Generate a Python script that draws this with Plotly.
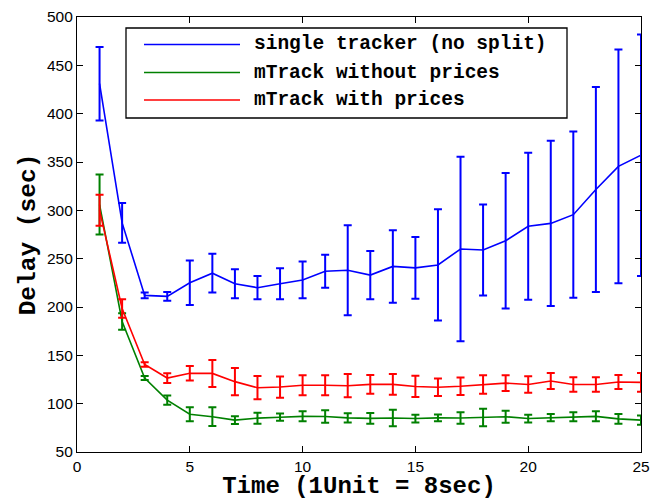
import plotly.graph_objects as go

# Time steps (1 unit = 8 sec)
time_units = list(range(1, 26))

# Mean delay (sec) and half-width of error bars for each configuration
single_tracker = [431, 287, 212, 211, 225, 235, 224, 220, 224, 228, 237, 238, 233,
                  242, 240.5, 243.5, 260, 259, 268.5, 283.5, 286.5, 295.5, 321.5, 345.5, 357]
single_tracker_err = [38, 20.5, 3, 4.5, 23, 20, 15, 12, 16, 19, 17, 46.5, 25,
                      37.5, 32, 57.5, 95.5, 47, 70, 76, 85.5, 86, 106, 121, 125]

mtrack_no_prices = [306, 185, 126.6, 103.7, 89, 86.5, 83, 85, 86, 86.9, 86.7, 85.3, 84.8,
                    85.2, 84.6, 85.3, 85.1, 85.7, 86.5, 84.6, 85.5, 86.4, 86.9, 84.3, 83]
mtrack_no_prices_err = [31, 8.5, 2, 4.7, 7.3, 9.7, 4.1, 5.7, 3.8, 5.2, 6.4, 4.7, 5.5,
                        8.6, 4, 3.6, 5.9, 9.1, 6.2, 4, 3.8, 4.7, 5.2, 5, 4.7]

mtrack_prices = [300, 198.5, 140.5, 126.5, 131.5, 131.3, 122.8, 116.5, 117.2, 119, 119, 118.6, 120,
                 120, 117.8, 117, 118, 119.8, 121.2, 119.9, 123.5, 119.8, 119.8, 122.4, 122]
mtrack_prices_err = [16, 9.5, 2.3, 5, 7.5, 14, 14, 12, 11, 10.4, 10.4, 12, 9.7,
                     10.7, 11, 9, 9, 9.5, 8.1, 8.5, 8.3, 7.4, 7.4, 7.3, 9.7]

series_names = ["single tracker (no split)", "mTrack without prices", "mTrack with prices"]
series_colors = ["#0000ff", "#008000", "#ff0000"]

x_ticks = [0, 5, 10, 15, 20, 25]
y_ticks = [50, 100, 150, 200, 250, 300, 350, 400, 450, 500]

series = [
    (single_tracker, single_tracker_err),
    (mtrack_no_prices, mtrack_no_prices_err),
    (mtrack_prices, mtrack_prices_err),
]

fig = go.Figure()
for (vals, errs), name, color in zip(series, series_names, series_colors):
    fig.add_trace(go.Scatter(
        x=time_units, y=vals, name=name, mode="lines",
        line=dict(color=color, width=1.6),
        error_y=dict(type="data", array=errs, visible=True,
                     color=color, thickness=2, width=4),
        showlegend=False,
    ))

# Figure geometry (pixels)
W, H = 652, 500
ML, MR, MT, MB = 77, 11, 17, 48
PW, PH = W - ML - MR, H - MT - MB


def px(x):
    return (x - ML) / PW


def py(y):
    return (H - MB - y) / PH


# Boxed legend with long line samples
legend_box = dict(x0=126, x1=567, y0=28, y1=118)
row_y = [44.5, 72.5, 100]
shapes = [dict(type="rect", xref="paper", yref="paper",
               x0=px(legend_box["x0"]), x1=px(legend_box["x1"]),
               y0=py(legend_box["y1"]), y1=py(legend_box["y0"]),
               line=dict(color="black", width=1.3), fillcolor="white", layer="above")]
annotations = []
for name, color, ry in zip(series_names, series_colors, row_y):
    shapes.append(dict(type="line", xref="paper", yref="paper",
                       x0=px(144), x1=px(240), y0=py(ry), y1=py(ry),
                       line=dict(color=color, width=1.6), layer="above"))
    annotations.append(dict(xref="paper", yref="paper", x=px(252), y=py(ry),
                            xanchor="left", yanchor="middle", showarrow=False,
                            text=name,
                            font=dict(family="Liberation Mono", size=19.5,
                                      color="black", weight="bold")))

axis_common = dict(
    showline=True, linecolor="black", linewidth=1.2, mirror="ticks",
    ticks="inside", ticklen=6, tickcolor="black", tickwidth=1,
    showgrid=False, zeroline=False, automargin=False,
    tickfont=dict(family="Liberation Sans", size=15.5, color="black"),
)

fig.update_layout(
    width=W, height=H,
    margin=dict(l=ML, r=MR, t=MT, b=MB, pad=0),
    paper_bgcolor="white", plot_bgcolor="white",
    xaxis=dict(range=[0, 25], tickvals=x_ticks, **axis_common,
               title=dict(text="Time (1Unit = 8sec)", standoff=4,
                          font=dict(family="Liberation Mono", size=24,
                                    color="black", weight="bold"))),
    yaxis=dict(range=[50, 500], tickvals=y_ticks, **axis_common,
               title=dict(text="Delay (sec)", standoff=4,
                          font=dict(family="Liberation Mono", size=24.5,
                                    color="black", weight="bold"))),
    shapes=shapes,
    annotations=annotations,
)

fig.write_html("out.html")
